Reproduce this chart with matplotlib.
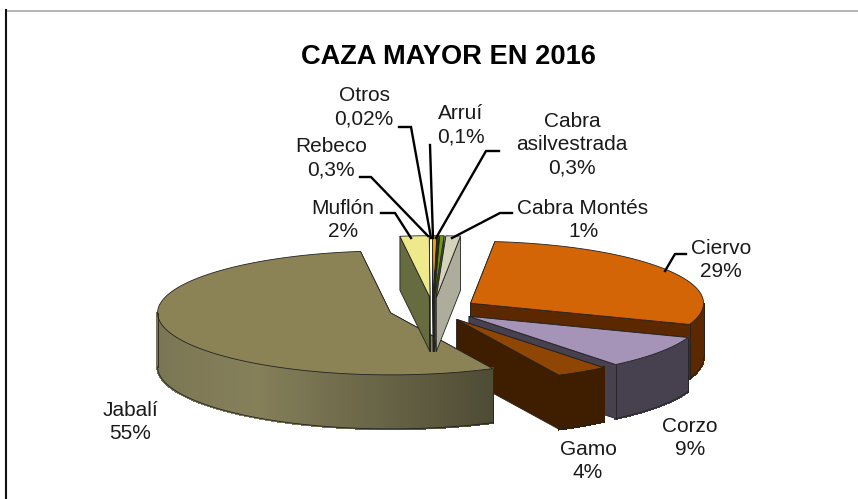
import numpy as np
import matplotlib
matplotlib.use("Agg")
import matplotlib.pyplot as plt
from matplotlib.colors import to_rgb
from matplotlib.patches import Polygon

plt.rcParams["font.family"] = ["Liberation Sans", "DejaVu Sans"]

# data, in the order the slices go round clockwise
names = ["Ciervo", "Corzo", "Gamo", "Jabalí", "Muflón", "Rebeco", "Otros", "Arruí",
         "Cabra\nasilvestrada", "Cabra Montés"]
values = [28.8, 8.6, 3.6, 55, 2, 0.3, 0.02, 0.1, 0.3, 1]
labels = ["29%", "9%", "4%", "55%", "2%", "0,3%", "0,02%", "0,1%", "0,3%", "1%"]

top_colors = ["#D36506", "#A594B8", "#8F4503", "#8B8356", "#EDE98C", "#E8A208",
              "#3A2A10", "#3A3A10", "#6E9A12", "#D6D3BD"]
wall_colors = ["#5C2800", "#46404F", "#3F1E00", "#85805A", "#666B40", "#6A4A08",
               "#2A2008", "#2A2A08", "#44600A", "#AEAC9A"]

# where each label sits (same order) and its leader line
label_pos = [(721, 260), (690, 438), (588, 461), (130, 422), (343, 220), (331, 158),
             (364, 107), (461, 125), (572, 145), (583, 220)]
leaders = [[(686, 254), (675, 254), (665, 271)], None, None, None,
           [(381, 213), (395, 213), (411, 238)],
           [(360, 177), (371, 177), (428, 236)],
           [(399, 127), (411, 127), (431, 238)],
           [(430, 145), (433, 238)],
           [(499, 151), (486, 151), (436, 238)],
           [(512, 213), (500, 213), (452, 238)]]

# pie projection, pixels
cx, cy = 433, 309.5
rx, ry = 233, 62
depth = 54
explode = 0.19
start = 6.0

fig = plt.figure(figsize=(8.58, 4.99), dpi=100)
ax = fig.add_axes([0, 0, 1, 1])
ax.set_xlim(0, 858)
ax.set_ylim(499, 0)
ax.axis("off")

# frame of the screenshot
ax.plot([6.5, 858], [10.5, 10.5], color="#A8A8A8", lw=1.2)
ax.plot([6, 6], [10, 499], color="#111111", lw=1.5)

ax.text(448, 57, "CAZA MAYOR EN 2016", fontsize=19.6, fontweight="bold",
        ha="center", va="center", color="black")


def point(angle, radius=1.0, apex=(0, 0), drop=0):
    a = np.radians(angle)
    return (apex[0] + radius * rx * np.sin(a),
            apex[1] - radius * ry * np.cos(a) + drop)


def shade(color, angle):
    # the big slice's outer wall is dark at its right end, lightest front left
    k = np.interp(angle, [153, 215, 270], [0.58, 1.0, 0.9])
    return tuple(c * k for c in to_rgb(color))


total = sum(values)
edges = start + np.cumsum([0] + values) * 360.0 / total
faces = []
for i in range(len(values)):
    a0, a1 = edges[i], edges[i + 1]
    mid = (a0 + a1) / 2
    faces.append((a0, a1, point(mid, explode, (cx, cy))))

for i, (a0, a1, apex) in enumerate(faces):
    edge = "#222222"
    # cut walls
    for a in (a0, a1):
        p = point(a, 1, apex)
        q = point(a, 1, apex, depth)
        ax.add_patch(Polygon([apex, p, q, (apex[0], apex[1] + depth)], closed=True,
                             fc=wall_colors[i], ec=edge, lw=0.6))
    # outer wall, only the part facing the viewer
    lo, hi = max(a0, 90), min(a1, 270)
    if hi > lo:
        steps = np.linspace(lo, hi, int(hi - lo) + 2)
        for s0, s1 in zip(steps[:-1], steps[1:]):
            if names[i] == "Jabalí":
                col = shade(wall_colors[i], (s0 + s1) / 2)
            else:
                col = wall_colors[i]
            ax.add_patch(Polygon([point(s0, 1, apex), point(s1, 1, apex),
                                  point(s1, 1, apex, depth), point(s0, 1, apex, depth)],
                                 closed=True, fc=col, ec=col, lw=1.2, antialiased=False))
        arc = [point(s, 1, apex, depth) for s in steps]
        ax.plot([p[0] for p in arc], [p[1] for p in arc], color=edge, lw=0.6)
        for s in (lo, hi):
            ax.plot(*zip(point(s, 1, apex), point(s, 1, apex, depth)), color=edge, lw=0.6)
    # top face
    arc = [point(s, 1, apex) for s in np.linspace(a0, a1, int(a1 - a0) * 2 + 3)]
    ax.add_patch(Polygon([apex] + arc, closed=True, fc=top_colors[i], ec=edge, lw=0.6))

for name, lab, pos, line in zip(names, labels, label_pos, leaders):
    ax.text(pos[0], pos[1], name + "\n" + lab, fontsize=15, ha="center", va="center",
            color="#1A1A1A", linespacing=1.3, multialignment="center")
    if line:
        ax.plot([p[0] for p in line], [p[1] for p in line], color="black", lw=1.7,
                solid_joinstyle="miter")

fig.savefig("out.png", dpi=100)
